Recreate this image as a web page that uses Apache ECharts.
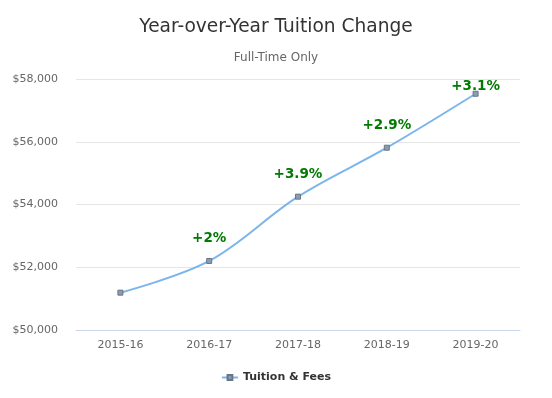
<!DOCTYPE html>
<html>
<head>
<meta charset="utf-8">
<script src="https://cdn.jsdelivr.net/npm/echarts@6/dist/echarts.min.js"></script>
<style>html,body{margin:0;padding:0;background:#fff}#c{width:552px;height:398px}</style>
</head>
<body>
<div id="c"></div>
<script>
var categories = ['2015-16', '2016-17', '2017-18', '2018-19', '2019-20'];
var tuition = [51190, 52200, 54250, 55810, 57530];
var changeLabels = ['', '+2%', '+3.9%', '+2.9%', '+3.1%'];
var yTicks = [50000, 52000, 54000, 56000, 58000];

var font = 'DejaVu Sans';
var chart = echarts.init(document.getElementById('c'), null, {renderer: 'canvas'});
var data = tuition.map(function (v, i) {
  var d = {value: v};
  if (changeLabels[i]) {
    d.label = {show: true, formatter: changeLabels[i]};
    if (i === tuition.length - 1) d.label.offset = [0, 15];
  }
  return d;
});
chart.setOption({
  animation: false,
  title: [
    {text: 'Year-over-Year Tuition Change', left: 'center', top: 13,
     textStyle: {fontFamily: font, fontSize: 18.6, fontWeight: 'normal', color: '#333'}},
    {text: 'Full-Time Only', left: 'center', top: 47,
     textStyle: {fontFamily: font, fontSize: 12, fontWeight: 'normal', color: '#666'}}
  ],
  legend: {
    bottom: 10, left: 'center', itemWidth: 16, itemHeight: 6, itemGap: 6,
    textStyle: {fontFamily: font, fontSize: 11, fontWeight: 'bold', color: '#333'},
    data: ['Tuition & Fees']
  },
  grid: {left: 76, right: 32, top: 79, bottom: 68},
  xAxis: {
    type: 'category', data: categories, boundaryGap: true,
    axisLine: {lineStyle: {color: '#ccd6eb'}},
    axisTick: {show: false},
    axisLabel: {fontFamily: font, fontSize: 11, color: '#666', margin: 10}
  },
  yAxis: {
    type: 'value', min: yTicks[0], max: yTicks[yTicks.length - 1], interval: 2000,
    axisLine: {show: false}, axisTick: {show: false},
    splitLine: {lineStyle: {color: '#e6e6e6'}},
    axisLabel: {fontFamily: font, fontSize: 11, color: '#666', margin: 18,
      formatter: function (v) { return '$' + v.toLocaleString('en-US'); }}
  },
  series: [{
    name: 'Tuition & Fees', type: 'line', smooth: 0.35, data: data,
    symbol: 'rect', symbolSize: 5,
    lineStyle: {color: '#7cb5ec', width: 2},
    itemStyle: {color: '#8c9cb0', borderColor: '#667788', borderWidth: 1},
    label: {show: false, position: 'top', distance: 12,
      fontFamily: font, fontSize: 13.5, fontWeight: 'bold', color: '#007a00'}
  }]
});
</script>
</body>
</html>
